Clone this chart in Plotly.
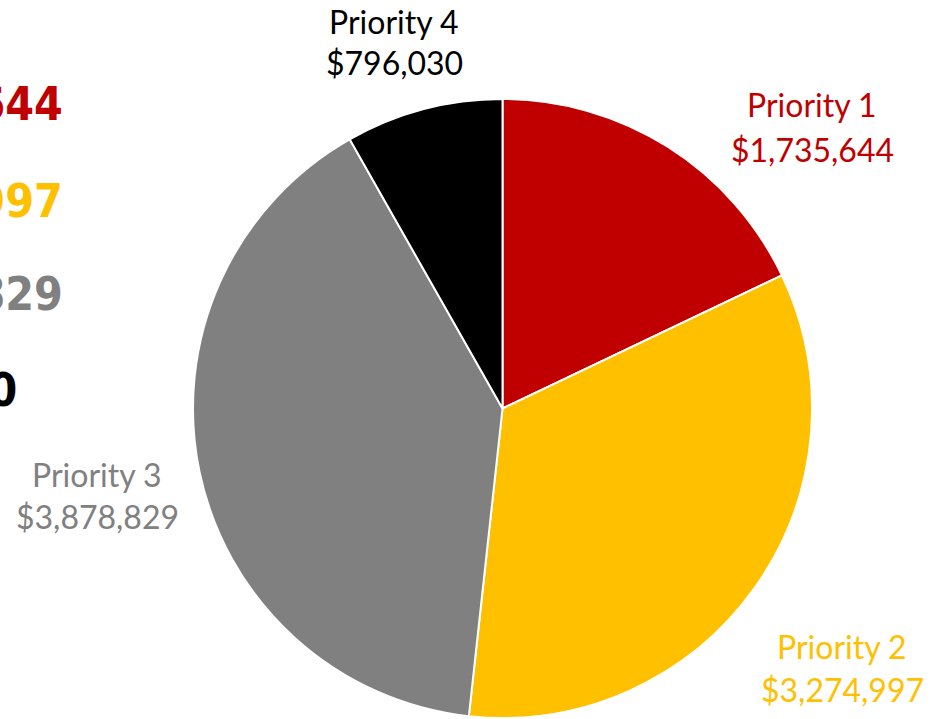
import plotly.graph_objects as go

W, H = 940, 719

labels = ["Priority 1", "Priority 2", "Priority 3", "Priority 4"]
values = [1735644, 3274997, 3878829, 796030]
value_text = ["$1,735,644", "$3,274,997", "$3,878,829", "$796,030"]
colors = ["#C00000", "#FFC000", "#808080", "#000000"]

FONT = "Source Sans Pro, Lato, sans-serif"
BOLD_FONT = "Source Sans Pro, DejaVu Sans Condensed, Lato, sans-serif"


def px(x, y):
    return x / W, 1 - y / H


x0, y0 = px(193, 718)
x1, y1 = px(812, 99)

fig = go.Figure(go.Pie(
    labels=labels,
    values=values,
    sort=False,
    direction="clockwise",
    rotation=0,
    marker=dict(colors=colors, line=dict(color="white", width=2)),
    textinfo="none",
    hoverinfo="label+value",
    showlegend=False,
    domain=dict(x=[x0, x1], y=[y0, y1]),
))

# outside labels (two lines each): (center x, line1 y, line2 y)
label_pos = [(812, 105, 149), (842, 646, 689), (97, 474, 516), (394, 21, 63)]
annotations = []
for lab, vt, col, (cx, ya, yb) in zip(labels, value_text, colors, label_pos):
    for txt, yy in ((lab, ya), (vt, yb)):
        x, y = px(cx, yy)
        annotations.append(dict(
            x=x, y=y, xref="paper", yref="paper", text=txt, showarrow=False,
            xanchor="center", yanchor="middle",
            font=dict(family=FONT, size=32, color=col),
        ))

# bold totals on the left (clipped by the frame)
left_pos = [(65, 104), (65, 201), (65, 294), (19, 390)]
for vt, col, (rx, yy) in zip(value_text, colors, left_pos):
    x, y = px(rx, yy)
    annotations.append(dict(
        x=x, y=y, xref="paper", yref="paper", text="<b>" + vt + "</b>",
        showarrow=False, xanchor="right", yanchor="middle",
        font=dict(family=BOLD_FONT, size=46, color=col),
    ))

fig.update_layout(
    width=W, height=H,
    margin=dict(l=0, r=0, t=0, b=0),
    paper_bgcolor="white", plot_bgcolor="white",
    annotations=annotations,
)

fig.write_html(
    "out.html",
    config={"displayModeBar": False},
    post_script="document.body.style.margin='0';",
)
